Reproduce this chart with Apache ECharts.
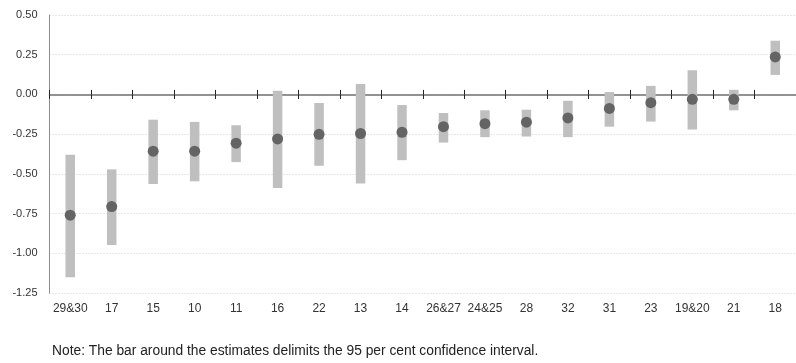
<!DOCTYPE html>
<html><head><meta charset="utf-8">
<script src="https://cdn.jsdelivr.net/npm/echarts@6/dist/echarts.min.js"></script>
<style>html,body{margin:0;padding:0;background:#fff}#c{width:796px;height:363px}</style>
</head><body><div id="c"></div>
<script>
var categories = ['29&30','17','15','10','11','16','22','13','14','26&27','24&25','28','32','31','23','19&20','21','18'];
var estimates = [-0.760,-0.706,-0.357,-0.357,-0.307,-0.280,-0.251,-0.246,-0.238,-0.203,-0.184,-0.175,-0.148,-0.088,-0.052,-0.031,-0.031,0.236];
var upper = [-0.380,-0.472,-0.159,-0.173,-0.194,0.023,-0.054,0.065,-0.067,-0.117,-0.100,-0.096,-0.040,0.015,0.054,0.152,0.029,0.338];
var lower = [-1.151,-0.948,-0.564,-0.547,-0.426,-0.589,-0.449,-0.560,-0.414,-0.303,-0.269,-0.265,-0.269,-0.203,-0.171,-0.221,-0.100,0.123];
var yTicks = {min:-1.25, max:0.5, interval:0.25};
var note = 'Note: The bar around the estimates delimits the 95 per cent confidence interval.';

var ciData = categories.map(function(c,i){return [i, lower[i], upper[i]];});
var chart = echarts.init(document.getElementById('c'), null, {renderer:'canvas'});
var gridBox = {left:49.5, top:15, width:755, height:278, containLabel:false};
var tickAxis = function(gi, inside){
  return {type:'category', data:categories, boundaryGap:true, gridIndex:gi, position:'bottom',
    axisLine:{show:true, onZero:true, lineStyle:{color:'#8c8c8c', width:1.5}},
    axisTick:{show:true, inside:inside, interval:0, length:4.5, lineStyle:{color:'#222', width:1}},
    axisLabel:{show:false}, splitLine:{show:false}};
};
chart.setOption({
  animation:false,
  grid:[Object.assign({}, gridBox), Object.assign({}, gridBox), Object.assign({}, gridBox)],
  xAxis:[
    {type:'category', data:categories, boundaryGap:true, position:'bottom', gridIndex:0,
     axisLine:{show:false, onZero:false}, axisTick:{show:false},
     axisLabel:{color:'#333', fontFamily:'Liberation Sans', fontSize:12, margin:10, interval:0}},
    tickAxis(1, true), tickAxis(2, false)
  ],
  yAxis:[
    {type:'value', gridIndex:0, min:yTicks.min, max:yTicks.max, interval:yTicks.interval,
    axisLine:{show:true, lineStyle:{color:'#8c8c8c', width:1}},
    axisTick:{show:false},
    axisLabel:{color:'#333', fontFamily:'Liberation Sans', fontSize:11, margin:12,
      formatter:function(v){return v.toFixed(2);}},
    splitLine:{show:true, lineStyle:{color:'#cfcfcf', type:[1,2], width:1}}},
    {type:'value', gridIndex:1, min:yTicks.min, max:yTicks.max, interval:yTicks.interval, show:false, splitLine:{show:false}},
    {type:'value', gridIndex:2, min:yTicks.min, max:yTicks.max, interval:yTicks.interval, show:false, splitLine:{show:false}}
  ],
  graphic:[{type:'text', left:52, top:344, style:{text:note, fill:'#222', font:'13.8px "Liberation Sans"'}}],
  series:[
    {type:'custom', xAxisIndex:0, yAxisIndex:0, data:ciData, z:2,
     encode:{x:0, y:[1,2]},
     renderItem:function(params, api){
       var x = api.value(0);
       var p1 = api.coord([x, api.value(2)]);
       var p2 = api.coord([x, api.value(1)]);
       var w = 9.5;
       return {type:'rect', shape:{x:p1[0]-w/2, y:p1[1], width:w, height:p2[1]-p1[1]},
         style:{fill:'#bfbfbf'}};
     }},
    {type:'scatter', xAxisIndex:0, yAxisIndex:0, data:estimates, symbol:'circle', symbolSize:11, z:3,
     itemStyle:{color:'#646464', opacity:1}}
  ]
});
</script></body></html>
